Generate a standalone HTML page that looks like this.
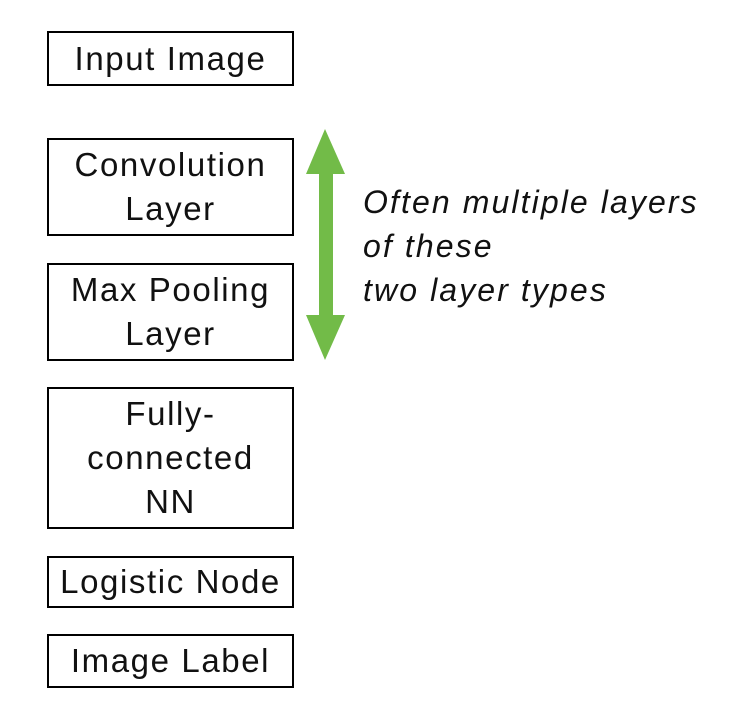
<!DOCTYPE html>
<html><head><style>
body{margin:0;width:748px;height:720px;background:#fff;position:relative;font-family:"Liberation Sans",sans-serif;overflow:hidden}
.b{position:absolute;left:47px;border:2px solid #000;display:flex;align-items:center;justify-content:center;text-align:center;font-size:33px;letter-spacing:1.6px;line-height:44px;color:#111;box-sizing:border-box;width:247px;white-space:nowrap}
.t{position:absolute;left:363px;top:180px;font-style:italic;font-size:32px;letter-spacing:2.1px;line-height:44px;color:#111;white-space:nowrap}
</style></head><body>
<div class="b" style="top:31px;height:55px">Input Image</div>
<div class="b" style="top:138px;height:98px">Convolution<br>Layer</div>
<div class="b" style="top:263px;height:98px">Max Pooling<br>Layer</div>
<div class="b" style="top:387px;height:142px">Fully-<br>connected<br>NN</div>
<div class="b" style="top:556px;height:52px">Logistic Node</div>
<div class="b" style="top:634px;height:54px">Image Label</div>
<svg style="position:absolute;left:0;top:0" width="748" height="720">
<polygon points="325,129 345,174 333,174 333,315 345,315 325,360 306,315 319,315 319,174 306,174" fill="#72bb48"/>
</svg>
<div class="t">Often multiple layers<br>of these<br>two layer types</div>
</body></html>
